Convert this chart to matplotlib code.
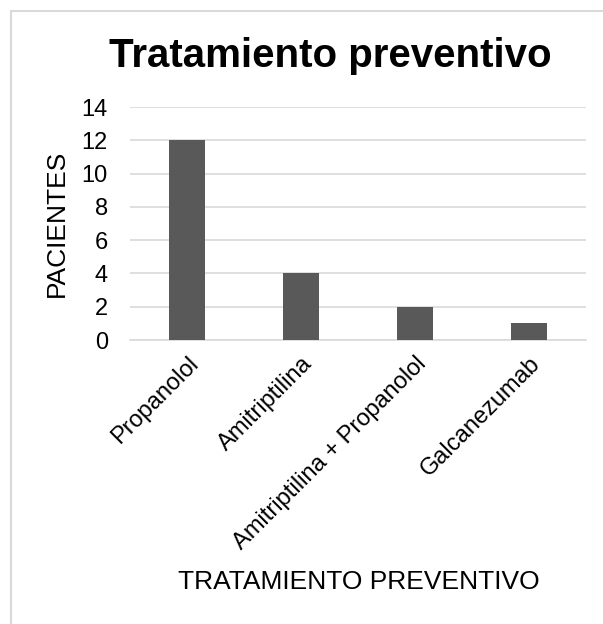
import matplotlib
matplotlib.use("Agg")
import matplotlib.pyplot as plt
from matplotlib.patches import Rectangle

categorias = ["Propanolol", "Amitriptilina", "Amitriptilina + Propanolol", "Galcanezumab"]
pacientes = [12, 4, 2, 1]
yticks = [0, 2, 4, 6, 8, 10, 12, 14]

plt.rcParams["font.family"] = ["Liberation Sans", "DejaVu Sans"]

fig = plt.figure(figsize=(6.03, 6.24), dpi=100)
ax = fig.add_axes([0.2156, 0.455, 0.7564, 0.3735])

x = range(len(categorias))
ax.bar(x, pacientes, width=0.32, color="#595959", zorder=3)

ax.set_xlim(-0.5, len(categorias) - 0.5)
ax.set_ylim(0, 14)
ax.set_yticks(yticks)
ax.set_yticklabels([str(v) for v in yticks], fontsize=17)
ax.set_xticks(list(x))
ax.set_xticklabels(categorias, fontsize=17, rotation=45, ha="right",
                   rotation_mode="anchor")
ax.tick_params(axis="both", length=0)
ax.tick_params(axis="y", pad=16)
ax.tick_params(axis="x", pad=9)

ax.grid(axis="y", color="#d9d9d9", linewidth=1.2, zorder=0)
for s in ["top", "right", "left"]:
    ax.spines[s].set_visible(False)
ax.spines["bottom"].set_color("#d9d9d9")
ax.spines["bottom"].set_linewidth(1.2)

ax.set_ylabel("PACIENTES", fontsize=19, labelpad=9)
fig.text(0.595, 0.068, "TRATAMIENTO PREVENTIVO", fontsize=19,
         ha="center", va="center")
fig.text(0.547, 0.91, "Tratamiento preventivo", fontsize=29,
         fontweight="bold", ha="center", va="center")

# light frame around the chart area
fig.patches.append(Rectangle((11 / 603, -0.05), 1.1, 1 - 11 / 624 + 0.05,
                             transform=fig.transFigure, fill=False,
                             edgecolor="#d9d9d9", linewidth=1.5))

fig.savefig("out.png", dpi=100, facecolor="white")
